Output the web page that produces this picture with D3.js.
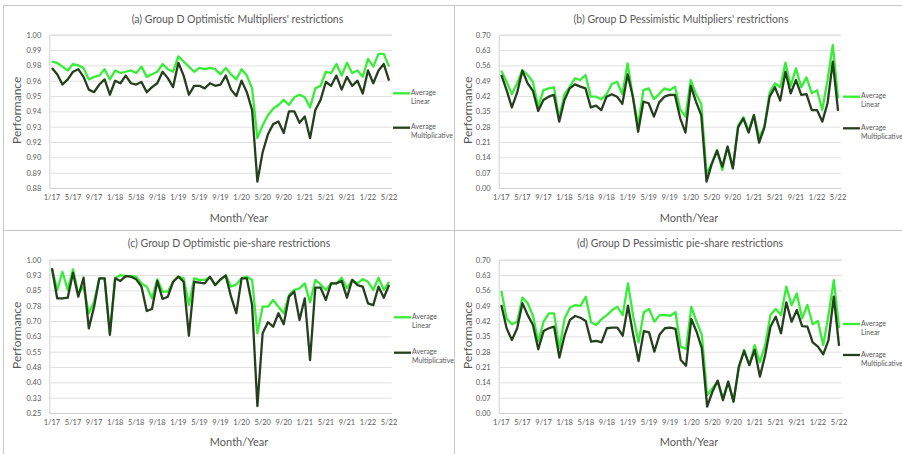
<!DOCTYPE html>
<html>
<head>
<meta charset="utf-8">
<script src="https://cdn.jsdelivr.net/npm/d3@7"></script>
<style>
  html, body { margin: 0; padding: 0; background: #ffffff; }
  svg { display: block; font-family: Lato, "Open Sans", sans-serif; }
</style>
</head>
<body>
<svg id="chart" width="902" height="454"></svg>
<script>
// Monthly categories, January 2017 to May 2022
const months = [
  "1/17","2/17","3/17","4/17","5/17","6/17","7/17","8/17","9/17","10/17","11/17","12/17",
  "1/18","2/18","3/18","4/18","5/18","6/18","7/18","8/18","9/18","10/18","11/18","12/18",
  "1/19","2/19","3/19","4/19","5/19","6/19","7/19","8/19","9/19","10/19","11/19","12/19",
  "1/20","2/20","3/20","4/20","5/20","6/20","7/20","8/20","9/20","10/20","11/20","12/20",
  "1/21","2/21","3/21","4/21","5/21","6/21","7/21","8/21","9/21","10/21","11/21","12/21",
  "1/22","2/22","3/22","4/22","5/22"
];
const xTickLabels = ["1/17","5/17","9/17","1/18","5/18","9/18","1/19","5/19","9/19",
                     "1/20","5/20","9/20","1/21","5/21","9/21","1/22","5/22"];

// Y tick values and their printed labels
const yTicksA = [0.88,0.892,0.904,0.916,0.928,0.94,0.952,0.964,0.976,0.988,1.0];
const yLabelsA = ["0.88","0.89","0.90","0.92","0.93","0.94","0.95","0.96","0.98","0.99","1.00"];
const yTicksB = [0,0.07,0.14,0.21,0.28,0.35,0.42,0.49,0.56,0.63,0.70];
const yLabelsB = ["0.00","0.07","0.14","0.21","0.28","0.35","0.42","0.49","0.56","0.63","0.70"];
const yTicksC = [0.25,0.325,0.40,0.475,0.55,0.625,0.70,0.775,0.85,0.925,1.0];
const yLabelsC = ["0.25","0.33","0.40","0.48","0.55","0.63","0.70","0.78","0.85","0.93","1.00"];

// (a) Optimistic, multipliers' restrictions
const linearA = [0.979,0.978,0.975,0.972,0.977,0.976,0.974,0.965,0.967,0.968,
  0.973,0.965,0.972,0.970,0.971,0.972,0.970,0.975,0.967,0.969,
  0.971,0.977,0.973,0.971,0.983,0.979,0.975,0.971,0.974,0.973,
  0.974,0.973,0.969,0.974,0.969,0.965,0.973,0.968,0.958,0.919,
  0.929,0.937,0.942,0.945,0.949,0.945,0.951,0.953,0.951,0.943,
  0.958,0.960,0.971,0.970,0.977,0.968,0.978,0.970,0.972,0.967,
  0.981,0.975,0.985,0.985,0.975];
const multA = [0.974,0.969,0.961,0.965,0.971,0.973,0.967,0.957,0.955,0.961,
  0.965,0.953,0.964,0.962,0.968,0.962,0.961,0.963,0.955,0.959,
  0.962,0.971,0.966,0.959,0.978,0.968,0.953,0.960,0.960,0.958,
  0.962,0.960,0.961,0.968,0.957,0.952,0.964,0.955,0.941,0.885,
  0.908,0.922,0.930,0.932,0.923,0.940,0.940,0.931,0.936,0.919,
  0.941,0.949,0.963,0.960,0.968,0.957,0.967,0.960,0.964,0.954,
  0.972,0.962,0.972,0.977,0.964];

// (b) Pessimistic, multipliers' restrictions
const linearB = [0.536,0.485,0.428,0.478,0.539,0.516,0.485,0.371,0.447,0.455,
  0.460,0.318,0.429,0.463,0.501,0.493,0.516,0.417,0.417,0.405,
  0.428,0.475,0.485,0.428,0.569,0.417,0.288,0.447,0.455,0.406,
  0.429,0.455,0.447,0.463,0.359,0.326,0.493,0.429,0.384,0.067,
  0.113,0.174,0.082,0.189,0.090,0.285,0.323,0.262,0.333,0.231,
  0.280,0.437,0.478,0.460,0.572,0.466,0.546,0.460,0.505,0.432,
  0.447,0.356,0.493,0.653,0.409];
const multB = [0.516,0.447,0.368,0.435,0.536,0.478,0.444,0.352,0.402,0.417,
  0.425,0.303,0.402,0.455,0.473,0.463,0.455,0.368,0.376,0.356,
  0.417,0.428,0.417,0.384,0.519,0.417,0.257,0.394,0.387,0.326,
  0.391,0.417,0.425,0.425,0.318,0.253,0.466,0.394,0.333,0.029,
  0.110,0.170,0.097,0.189,0.090,0.277,0.318,0.253,0.333,0.207,
  0.277,0.417,0.460,0.399,0.531,0.432,0.493,0.425,0.429,0.356,
  0.356,0.303,0.387,0.577,0.352];

// (c) Optimistic, pie-share restrictions
const linearC = [0.958,0.852,0.941,0.852,0.953,0.835,0.868,0.738,0.795,0.909,
  0.909,0.640,0.909,0.925,0.920,0.920,0.917,0.884,0.868,0.811,
  0.904,0.844,0.844,0.892,0.917,0.909,0.778,0.909,0.901,0.901,
  0.914,0.876,0.901,0.925,0.868,0.879,0.909,0.917,0.901,0.640,
  0.770,0.770,0.803,0.770,0.738,0.827,0.852,0.860,0.884,0.791,
  0.901,0.879,0.852,0.884,0.884,0.912,0.860,0.901,0.884,0.905,
  0.892,0.852,0.912,0.852,0.892];
const multC = [0.958,0.811,0.811,0.814,0.936,0.819,0.912,0.664,0.770,0.909,
  0.909,0.632,0.909,0.896,0.920,0.917,0.904,0.868,0.749,0.759,
  0.896,0.808,0.819,0.892,0.917,0.892,0.628,0.892,0.888,0.884,
  0.917,0.876,0.904,0.922,0.819,0.738,0.909,0.909,0.778,0.284,
  0.640,0.694,0.672,0.738,0.684,0.819,0.844,0.705,0.811,0.509,
  0.863,0.863,0.803,0.884,0.884,0.896,0.814,0.901,0.876,0.868,
  0.786,0.778,0.868,0.814,0.876];

// (d) Pessimistic, pie-share restrictions
const linearD = [0.557,0.432,0.405,0.417,0.527,0.501,0.444,0.326,0.417,0.455,
  0.455,0.295,0.432,0.481,0.493,0.489,0.531,0.414,0.402,0.429,
  0.447,0.470,0.485,0.447,0.592,0.440,0.323,0.460,0.475,0.417,
  0.447,0.447,0.444,0.460,0.303,0.292,0.485,0.417,0.356,0.082,
  0.113,0.143,0.067,0.143,0.052,0.204,0.288,0.219,0.310,0.231,
  0.310,0.447,0.475,0.447,0.577,0.493,0.546,0.432,0.493,0.405,
  0.420,0.310,0.447,0.607,0.387];
const multD = [0.493,0.387,0.333,0.387,0.501,0.447,0.402,0.291,0.374,0.387,
  0.394,0.253,0.356,0.425,0.443,0.435,0.420,0.326,0.329,0.323,
  0.387,0.390,0.390,0.353,0.490,0.356,0.237,0.374,0.368,0.280,
  0.359,0.387,0.390,0.384,0.242,0.216,0.429,0.371,0.295,0.029,
  0.097,0.148,0.059,0.143,0.052,0.212,0.283,0.219,0.288,0.166,
  0.265,0.394,0.440,0.364,0.505,0.417,0.470,0.397,0.394,0.323,
  0.303,0.268,0.333,0.531,0.307];

const titles = [
  "(a) Group D Optimistic Multipliers' restrictions",
  "(b) Group D Pessimistic Multipliers' restrictions",
  "(c) Group D Optimistic pie-share restrictions",
  "(d) Group D Pessimistic pie-share restrictions"
];
const seriesNames = [["Average", "Linear"], ["Average", "Multiplicative"]];

const COLOR_LIN = "#36ee36";
const COLOR_MUL = "#263f1f";
const TEXT = "#595959";

// Plot geometry of each of the four cells
const panels = [
  { title: titles[0], lin: linearA, mul: multA, ticks: yTicksA, labels: yLabelsA,
    left: 49.3, right: 391.7, top: 34.7, bottom: 188, titleX: 237.5, titleY: 20,
    perfX: 18, axisTitleX: 239, axisTitleY: 219.5, legX: 393, legY: [93.3, 127.7] },
  { title: titles[1], lin: linearB, mul: multB, ticks: yTicksB, labels: yLabelsB,
    left: 498.7, right: 840.7, top: 34.7, bottom: 188, titleX: 681, titleY: 20,
    perfX: 469, axisTitleX: 689, axisTitleY: 219.5, legX: 843, legY: [96.7, 128.3] },
  { title: titles[2], lin: linearC, mul: multC, ticks: yTicksC, labels: yLabelsC,
    left: 49.3, right: 391.7, top: 259.7, bottom: 413, titleX: 229, titleY: 244,
    perfX: 18, axisTitleX: 239, axisTitleY: 443.5, legX: 394, legY: [317.3, 352.7] },
  { title: titles[3], lin: linearD, mul: multD, ticks: yTicksB, labels: yLabelsB,
    left: 498.7, right: 841.7, top: 259.7, bottom: 413, titleX: 680, titleY: 244,
    perfX: 469, axisTitleX: 689, axisTitleY: 443.5, legX: 843, legY: [324, 355] }
];

const svg = d3.select("#chart");

// Cell frames
const frame = svg.append("g").attr("stroke", "#c8c8c8").attr("stroke-width", 1);
frame.append("line").attr("x1", 3).attr("x2", 902).attr("y1", 5.5).attr("y2", 5.5);
frame.append("line").attr("x1", 3).attr("x2", 902).attr("y1", 230.5).attr("y2", 230.5);
frame.append("line").attr("x1", 3.5).attr("x2", 3.5).attr("y1", 5.5).attr("y2", 454);
frame.append("line").attr("x1", 454.5).attr("x2", 454.5).attr("y1", 5.5).attr("y2", 454);

panels.forEach(p => {
  const g = svg.append("g");
  const x = d3.scaleBand().domain(months).range([p.left, p.right]);
  const y = d3.scaleLinear().domain([p.ticks[0], p.ticks[p.ticks.length - 1]]).range([p.bottom, p.top]);
  const cx = m => x(m) + x.bandwidth() / 2;

  // Horizontal gridlines and y tick labels
  const yAxis = d3.axisLeft(y)
    .tickValues(p.ticks)
    .tickFormat((d, i) => p.labels[i])
    .tickSize(-(p.right - p.left))
    .tickPadding(8);
  g.append("g")
    .attr("transform", `translate(${p.left},0)`)
    .call(yAxis)
    .call(a => a.select(".domain").attr("stroke", "#d0d0d0"))
    .call(a => a.selectAll(".tick line").attr("stroke", "#e0e0e0"))
    .call(a => a.selectAll(".tick text")
      .attr("fill", TEXT).attr("font-size", 7.5).attr("font-family", "Lato, sans-serif"));

  // X axis with month labels every four months
  const xAxis = d3.axisBottom(x)
    .tickValues(xTickLabels)
    .tickSize(0)
    .tickSizeOuter(0)
    .tickPadding(7);
  g.append("g")
    .attr("transform", `translate(0,${p.bottom})`)
    .call(xAxis)
    .call(a => a.select(".domain").attr("stroke", "#d0d0d0"))
    .call(a => a.selectAll(".tick text")
      .attr("fill", TEXT).attr("font-size", 7.5).attr("font-family", "Lato, sans-serif"));

  // Series lines
  const line = d3.line().x((d, i) => cx(months[i])).y(d => y(d));
  g.append("path").datum(p.lin)
    .attr("fill", "none").attr("stroke", COLOR_LIN).attr("stroke-width", 2.3)
    .attr("stroke-linejoin", "round").attr("d", line);
  g.append("path").datum(p.mul)
    .attr("fill", "none").attr("stroke", COLOR_MUL).attr("stroke-width", 2.3)
    .attr("stroke-linejoin", "round").attr("d", line);

  // Title and axis titles
  g.append("text").attr("x", p.titleX).attr("y", p.titleY)
    .attr("text-anchor", "middle").attr("dominant-baseline", "middle")
    .attr("font-size", 10.5).attr("fill", TEXT).text(p.title);
  g.append("text")
    .attr("transform", `translate(${p.perfX},${(p.top + p.bottom) / 2 - 1}) rotate(-90)`)
    .attr("text-anchor", "middle").attr("dominant-baseline", "middle")
    .attr("font-size", 12).attr("fill", TEXT).text("Performance");
  g.append("text").attr("x", p.axisTitleX).attr("y", p.axisTitleY)
    .attr("text-anchor", "middle").attr("dominant-baseline", "middle")
    .attr("font-size", 11).attr("fill", TEXT).text("Month/Year");

  // Legend
  [COLOR_LIN, COLOR_MUL].forEach((c, k) => {
    const ly = p.legY[k];
    g.append("line").attr("x1", p.legX).attr("x2", p.legX + 17)
      .attr("y1", ly).attr("y2", ly).attr("stroke", c).attr("stroke-width", 2.3);
    seriesNames[k].forEach((t, j) => {
      g.append("text").attr("x", p.legX + 18).attr("y", ly + j * 9)
        .attr("dominant-baseline", "middle").attr("font-size", 7)
        .attr("fill", TEXT).text(t);
    });
  });
});
</script>
</body>
</html>
